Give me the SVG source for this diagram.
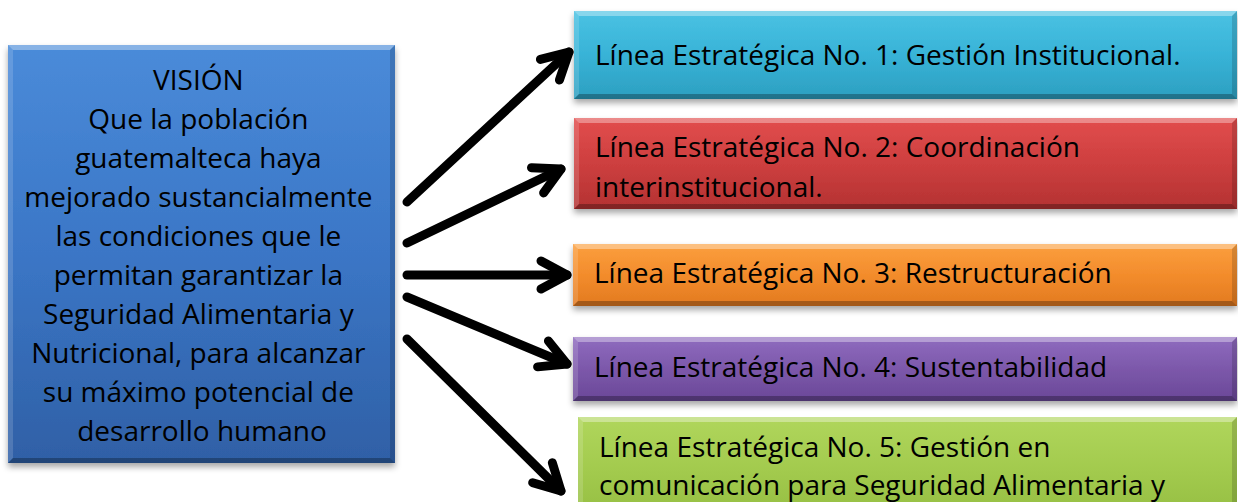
<svg xmlns="http://www.w3.org/2000/svg" width="1238" height="502" viewBox="0 0 1238 502">
<style>
  .t { font-family: "Open Sans", "Liberation Sans", sans-serif; font-size: 28px; fill: #000; }
  .vt { text-anchor: middle; }
  .hl { fill: #fff; fill-opacity: 0.35; }
  .hl2 { fill: #fff; fill-opacity: 0.15; }
  .dk { fill: #000; fill-opacity: 0.15; }
  .dk2 { fill: #000; fill-opacity: 0.28; }
  .arr { stroke: #000; stroke-width: 9; stroke-linecap: round; fill: none; marker-end: url(#head); }
</style>
<defs>
  <filter id="sh" x="-10%" y="-10%" width="120%" height="130%">
    <feDropShadow dx="0" dy="4" stdDeviation="3" flood-color="#000" flood-opacity="0.35"/>
  </filter>
  <marker id="head" markerUnits="userSpaceOnUse" viewBox="-40 -30 50 60" markerWidth="50" markerHeight="60" refX="0" refY="0" orient="auto" overflow="visible">
    <path d="M-26,-14 L0,0 L-26,14" stroke="#000" stroke-width="9" stroke-linecap="round" stroke-linejoin="round" fill="none"/>
  </marker>
  <linearGradient id="gBlue" x1="0" y1="0" x2="0" y2="1"><stop offset="0" stop-color="#4a8bd9"/><stop offset="0.5" stop-color="#3b76c6"/><stop offset="1" stop-color="#2f60a6"/></linearGradient>
  <linearGradient id="gCyan" x1="0" y1="0" x2="0" y2="1"><stop offset="0" stop-color="#4ac2e3"/><stop offset="0.5" stop-color="#38b3d7"/><stop offset="1" stop-color="#2c9fc0"/></linearGradient>
  <linearGradient id="gRed" x1="0" y1="0" x2="0" y2="1"><stop offset="0" stop-color="#e24d4d"/><stop offset="0.5" stop-color="#cd3f3f"/><stop offset="1" stop-color="#b43232"/></linearGradient>
  <linearGradient id="gOrange" x1="0" y1="0" x2="0" y2="1"><stop offset="0" stop-color="#fb9f3e"/><stop offset="0.5" stop-color="#f38c2c"/><stop offset="1" stop-color="#e27a20"/></linearGradient>
  <linearGradient id="gPurple" x1="0" y1="0" x2="0" y2="1"><stop offset="0" stop-color="#8f6bbf"/><stop offset="0.5" stop-color="#7c58aa"/><stop offset="1" stop-color="#6a4898"/></linearGradient>
  <linearGradient id="gGreen" x1="0" y1="0" x2="0" y2="1"><stop offset="0" stop-color="#b0d65c"/><stop offset="0.5" stop-color="#a2ca4d"/><stop offset="1" stop-color="#92bb40"/></linearGradient>
</defs>
<rect width="1238" height="502" fill="#fff"/>

<g id="vision">
  <rect x="8" y="45" width="387" height="418" fill="url(#gBlue)" filter="url(#sh)"/>
  <polygon class="hl" points="8,45 395,45 390,50 13,50"/>
  <polygon class="hl2" points="8,45 13,50 13,458 8,463"/>
  <polygon class="dk" points="395,45 395,463 390,458 390,50"/>
  <polygon class="dk2" points="8,463 395,463 390,458 13,458"/>
  <text class="t vt" x="202">
    <tspan x="202" y="90">VISIÓN</tspan>
    <tspan x="202" y="129">Que la población</tspan>
    <tspan x="202" y="168">guatemalteca haya</tspan>
    <tspan x="202" y="207">mejorado sustancialmente</tspan>
    <tspan x="202" y="246">las condiciones que le</tspan>
    <tspan x="202" y="285">permitan garantizar la</tspan>
    <tspan x="202" y="324">Seguridad Alimentaria y</tspan>
    <tspan x="202" y="363">Nutricional, para alcanzar</tspan>
    <tspan x="202" y="402">su máximo potencial de</tspan>
    <tspan x="202" y="441">desarrollo humano</tspan>
  </text>
</g>

<g id="linea1">
  <rect x="574" y="11" width="663" height="88" fill="url(#gCyan)" filter="url(#sh)"/>
  <polygon class="hl" points="574,11 1237,11 1232,16 579,16"/>
  <polygon class="hl2" points="574,11 579,16 579,94 574,99"/>
  <polygon class="dk" points="1237,11 1237,99 1232,94 1232,16"/>
  <polygon class="dk2" points="574,99 1237,99 1232,94 579,94"/>
  <text class="t" x="595" y="65">Línea Estratégica No. 1: Gestión Institucional.</text>
</g>

<g id="linea2">
  <rect x="574" y="118" width="663" height="91" fill="url(#gRed)" filter="url(#sh)"/>
  <polygon class="hl" points="574,118 1237,118 1232,123 579,123"/>
  <polygon class="hl2" points="574,118 579,123 579,204 574,209"/>
  <polygon class="dk" points="1237,118 1237,209 1232,204 1232,123"/>
  <polygon class="dk2" points="574,209 1237,209 1232,204 579,204"/>
  <text class="t" x="595" y="157">Línea Estratégica No. 2: Coordinación</text>
  <text class="t" x="595" y="197">interinstitucional.</text>
</g>

<g id="linea3">
  <rect x="573" y="244" width="664" height="62" fill="url(#gOrange)" filter="url(#sh)"/>
  <polygon class="hl" points="573,244 1237,244 1232,249 578,249"/>
  <polygon class="hl2" points="573,244 578,249 578,301 573,306"/>
  <polygon class="dk" points="1237,244 1237,306 1232,301 1232,249"/>
  <polygon class="dk2" points="573,306 1237,306 1232,301 578,301"/>
  <text class="t" x="594" y="283">Línea Estratégica No. 3: Restructuración</text>
</g>

<g id="linea4">
  <rect x="573" y="337" width="664" height="64" fill="url(#gPurple)" filter="url(#sh)"/>
  <polygon class="hl" points="573,337 1237,337 1232,342 578,342"/>
  <polygon class="hl2" points="573,337 578,342 578,396 573,401"/>
  <polygon class="dk" points="1237,337 1237,401 1232,396 1232,342"/>
  <polygon class="dk2" points="573,401 1237,401 1232,396 578,396"/>
  <text class="t" x="594" y="377">Línea Estratégica No. 4: Sustentabilidad</text>
</g>

<g id="linea5">
  <rect x="578" y="417" width="659" height="110" fill="url(#gGreen)"/>
  <polygon class="hl" points="578,417 1237,417 1232,422 583,422"/>
  <polygon class="hl2" points="578,417 583,422 583,502 578,502"/>
  <polygon class="dk" points="1237,417 1237,502 1232,502 1232,422"/>
  <text class="t" x="599" y="457">Línea Estratégica No. 5: Gestión en</text>
  <text class="t" x="599" y="495">comunicación para Seguridad Alimentaria y</text>
</g>

<g id="connectors">
  <line class="arr" x1="407" y1="202" x2="569" y2="52"/>
  <line class="arr" x1="407" y1="243" x2="561" y2="169"/>
  <line class="arr" x1="407" y1="275" x2="567" y2="275"/>
  <line class="arr" x1="407" y1="297" x2="567" y2="364"/>
  <line class="arr" x1="407" y1="339" x2="561" y2="491"/>
</g>
</svg>
